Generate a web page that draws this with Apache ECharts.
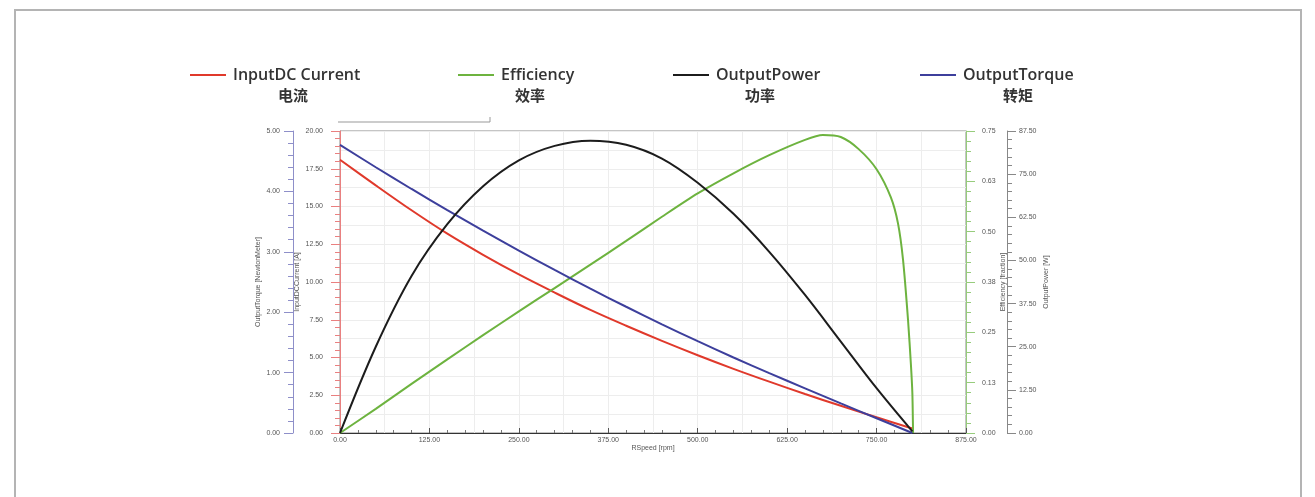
<!DOCTYPE html>
<html>
<head>
<meta charset="utf-8">
<script src="https://cdn.jsdelivr.net/npm/echarts@6/dist/echarts.min.js"></script>
<style>
html, body { margin: 0; padding: 0; background: #fff; }
#chart { width: 1315px; height: 497px; }
</style>
</head>
<body>
<div id="chart"></div>
<script>
// speed samples (rpm)
var speed = [0, 50, 100, 150, 200, 250, 300, 350, 400, 450, 500, 550, 600, 650, 700, 750, 800];
var current = [18.1, 16.4, 14.75, 13.2, 11.8, 10.5, 9.3, 8.15, 7.1, 6.1, 5.15, 4.25, 3.4, 2.58, 1.8, 1.04, 0.3];
var torque = [4.77, 4.4, 4.04, 3.69, 3.35, 3.02, 2.7, 2.39, 2.09, 1.8, 1.52, 1.25, 0.99, 0.74, 0.49, 0.245, 0.0];
var power = [0, 25, 45.5, 60.5, 71.5, 79, 83.2, 84.7, 83.5, 79.5, 72.5, 63.5, 52.5, 40, 26.5, 13, 0.5];

var effSpeed = [0, 50, 100, 150, 200, 250, 300, 350, 400, 450, 500, 550, 600, 650, 675, 700, 725, 750, 770, 780, 787, 794, 798, 800, 801];
var efficiency = [0, 0.06, 0.122, 0.183, 0.243, 0.302, 0.36, 0.418, 0.477, 0.537, 0.595, 0.645, 0.69, 0.728, 0.74, 0.735, 0.705, 0.655, 0.585, 0.52, 0.43, 0.28, 0.17, 0.1, 0];

var seriesNames = ['InputDC Current', 'Efficiency', 'OutputPower', 'OutputTorque'];
var seriesCn = ['电流', '效率', '功率', '转矩'];
var seriesColors = ['#e0392b', '#6db33f', '#1c1c1c', '#3d3f9c'];

function pairs(xs, ys) {
	var out = [];
	for (var i = 0; i < xs.length; i++) out.push([xs[i], ys[i]]);
	return out;
}
function fmt2(v) { return v.toFixed(2); }

var tickFont = { color: '#555', fontSize: 7, fontFamily: 'Liberation Sans' };
var nameFont = { color: '#555', fontSize: 7, fontFamily: 'Liberation Sans' };

// one y axis with its own colour, offset and label margin
function valueAxis(min, max, step, side, offset, name, nameGap, margin, color) {
	return {
		type: 'value',
		min: min, max: max, interval: step,
		position: side, offset: offset,
		name: name,
		nameLocation: 'middle',
		nameRotate: 90,
		nameGap: nameGap,
		nameMoveOverlap: false,
		nameTextStyle: nameFont,
		axisLine: { show: true, onZero: false, lineStyle: { color: color, width: 1 } },
		axisTick: { show: true, length: 9, lineStyle: { color: color } },
		minorTick: { show: true, splitNumber: 5, length: 5, lineStyle: { color: color } },
		axisLabel: Object.assign({ formatter: fmt2, margin: margin }, tickFont),
		splitLine: { show: false }
	};
}

var myChart = echarts.init(document.getElementById('chart'));

var legendLeft = [190, 458, 673, 920];
var cnCenter = [293, 530, 760, 1018];

var legends = [];
var graphics = [
	{ type: 'rect', shape: { x: 15, y: 10, width: 1286, height: 520 }, style: { fill: 'none', stroke: '#b4b4b4', lineWidth: 2 }, silent: true },
	{ type: 'polyline', shape: { points: [[338, 122], [490, 122], [490, 117]] }, style: { fill: 'none', stroke: '#999', lineWidth: 1 }, silent: true }
];
for (var i = 0; i < seriesNames.length; i++) {
	legends.push({
		data: [seriesNames[i]],
		left: legendLeft[i],
		top: 67,
		padding: 0,
		icon: 'rect',
		itemWidth: 36,
		itemHeight: 2,
		itemGap: 0,
		textStyle: { color: '#333', fontSize: 16, fontWeight: 600, fontFamily: 'Open Sans', padding: [0, 0, 0, 2] },
		selectedMode: false
	});
	graphics.push({
		type: 'text',
		x: cnCenter[i],
		y: 95,
		style: { text: seriesCn[i], fill: '#333', font: 'bold 15px "Noto Sans CJK SC"', align: 'center', verticalAlign: 'middle' },
		silent: true
	});
}

var yAxes = [
	valueAxis(0, 20, 2.5, 'left', 0, 'InputDCCurrent [A]', 39, 17, '#e98080'),
	valueAxis(0, 5, 1, 'left', 47, 'OutputTorque [NewtonMeter]', 31, 13, '#8e8fc9'),
	valueAxis(0, 0.75, 0.125, 'right', 0, 'Efficiency [fraction]', 34, 16, '#97cc7c'),
	valueAxis(0, 87.5, 12.5, 'right', 41, 'OutputPower [W]', 36, 12, '#888888')
];
yAxes[0].splitLine = { show: true, lineStyle: { color: '#dcdcdc' } };
// extra axis only for the finer horizontal grid
yAxes.push({
	type: 'value', min: 0, max: 20, interval: 1.25,
	position: 'left',
	axisLine: { show: false, onZero: false }, axisTick: { show: false }, axisLabel: { show: false },
	splitLine: { show: true, lineStyle: { color: '#ededed', width: 1 } }
});

var option = {
	animation: false,
	backgroundColor: '#fff',
	legend: legends,
	graphic: graphics,
	grid: { left: 340, right: 349, top: 131, bottom: 64, show: true, borderColor: '#8a8a8a', borderWidth: 1 },
	xAxis: [
		{
			type: 'value',
			min: 0, max: 875, interval: 125,
			name: 'RSpeed [rpm]',
			nameLocation: 'middle',
			nameGap: 12,
			nameMoveOverlap: false,
			nameTextStyle: nameFont,
			axisLine: { onZero: false, lineStyle: { color: '#333', width: 1 } },
			axisTick: { show: true, inside: true, length: 5, lineStyle: { color: '#555' } },
			minorTick: { show: true, splitNumber: 5, length: 3, lineStyle: { color: '#777' } },
			axisLabel: Object.assign({ formatter: fmt2, margin: 4 }, tickFont),
			splitLine: { show: true, lineStyle: { color: '#dcdcdc', width: 1 } }
		},
		{
			type: 'value',
			min: 0, max: 875, interval: 62.5,
			axisLine: { show: false, onZero: false }, axisTick: { show: false }, axisLabel: { show: false },
			splitLine: { show: true, lineStyle: { color: '#ededed', width: 1 } }
		}
	],
	yAxis: yAxes,
	series: [
		{
			name: seriesNames[0], type: 'line', yAxisIndex: 0,
			symbol: 'none', smooth: 0.35,
			lineStyle: { color: seriesColors[0], width: 2 }, itemStyle: { color: seriesColors[0] },
			data: pairs(speed, current), z: 3
		},
		{
			name: seriesNames[1], type: 'line', yAxisIndex: 2,
			symbol: 'none', smooth: 0.25,
			lineStyle: { color: seriesColors[1], width: 2 }, itemStyle: { color: seriesColors[1] },
			data: pairs(effSpeed, efficiency), z: 3
		},
		{
			name: seriesNames[2], type: 'line', yAxisIndex: 3,
			symbol: 'none', smooth: 0.35,
			lineStyle: { color: seriesColors[2], width: 2 }, itemStyle: { color: seriesColors[2] },
			data: pairs(speed, power), z: 4
		},
		{
			name: seriesNames[3], type: 'line', yAxisIndex: 1,
			symbol: 'none', smooth: 0.35,
			lineStyle: { color: seriesColors[3], width: 2 }, itemStyle: { color: seriesColors[3] },
			data: pairs(speed, torque), z: 3
		}
	]
};
myChart.setOption(option, true);
</script>
</body>
</html>
